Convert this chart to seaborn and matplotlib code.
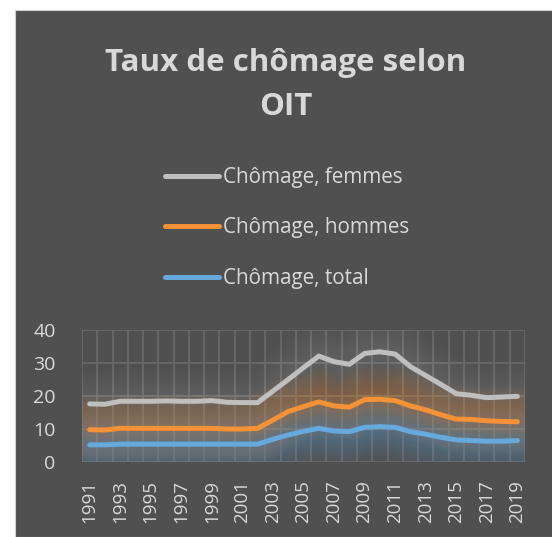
import numpy as np
import pandas as pd
import matplotlib
matplotlib.use("Agg")
import matplotlib.pyplot as plt
import matplotlib.patches as mpatches
import seaborn as sns

years = list(range(1991, 2020))
femmes = [17.6, 17.5, 18.4, 18.4, 18.4, 18.5, 18.4, 18.4, 18.6, 18.1, 18.0, 18.0,
          21.5, 25.0, 28.6, 32.1, 30.4, 29.6, 32.9, 33.4, 32.7, 28.9, 26.2, 23.5,
          20.7, 20.2, 19.5, 19.7, 19.9]
hommes = [9.8, 9.7, 10.2, 10.2, 10.2, 10.2, 10.2, 10.2, 10.2, 10.0, 10.0, 10.2,
          12.7, 15.3, 16.8, 18.2, 17.0, 16.6, 18.9, 19.0, 18.6, 17.0, 15.8, 14.3,
          13.0, 12.9, 12.5, 12.3, 12.2]
total = [5.2, 5.2, 5.4, 5.4, 5.4, 5.4, 5.4, 5.4, 5.4, 5.4, 5.4, 5.4,
         6.9, 8.2, 9.3, 10.2, 9.4, 9.2, 10.5, 10.7, 10.5, 9.2, 8.4, 7.5,
         6.7, 6.5, 6.3, 6.3, 6.5]
series_names = ["Chômage, femmes", "Chômage, hommes", "Chômage, total"]
colors = ["#bfbfbf", "#f39236", "#66a9dd"]
title = "Taux de chômage selon\nOIT"
yticks = [0, 10, 20, 30, 40]
xtick_years = list(range(1991, 2020, 2))

df = pd.DataFrame({"Année": years, series_names[0]: femmes,
                   series_names[1]: hommes, series_names[2]: total})
long = df.melt(id_vars="Année", var_name="Série", value_name="Taux")

sns.set_theme(style="dark")
plt.rcParams["font.family"] = ["Open Sans", "DejaVu Sans"]
txt = "#d9d9d9"
panel = "#505050"
grid = "#6a6a6a"

fig = plt.figure(figsize=(5.52, 5.37), dpi=100, facecolor="white")
fig.patches.append(mpatches.Rectangle((15/552, 0), 1, 1 - 10/537, transform=fig.transFigure,
                                      facecolor=panel, edgecolor="#d0d0d0", lw=0.8, zorder=-10))

ax = fig.add_axes([82/552, 1 - 462/537, (525-82)/552, (462-330)/537])
ax.set_facecolor("none")
ax.set_zorder(5)

# glow
for vals, c, strength in [(femmes, colors[0], 0.5), (hommes, colors[1], 1.0), (total, colors[2], 1.0)]:
    for lw in np.linspace(8, 48, 14):
        ax.plot(years, vals, color=c, lw=lw, alpha=0.032*strength, solid_capstyle="round",
                solid_joinstyle="round", zorder=2)

sns.lineplot(data=long, x="Année", y="Taux", hue="Série", hue_order=series_names,
             palette=colors, lw=3.6, ax=ax, zorder=3, legend=True)
for l in ax.lines[-3:]:
    l.set_solid_capstyle("round")

ax.set_xlim(1990.5, 2019.5)
ax.set_ylim(0, 40)
ax.set_yticks(yticks)
ax.set_xticks(xtick_years)
ax.set_xticks(np.arange(1990.5, 2020, 1), minor=True)
ax.grid(False)
ax.grid(True, which="minor", axis="x", color=grid, lw=1.2, zorder=1)
ax.grid(True, which="major", axis="y", color=grid, lw=1.2, zorder=1)
ax.tick_params(axis="x", which="both", length=0, labelrotation=90, labelsize=13.5,
               labelcolor=txt, pad=13)
ax.tick_params(axis="y", length=0, labelsize=14, labelcolor=txt, pad=19)
ax.set_xlabel("")
ax.set_ylabel("")
for s in ax.spines.values():
    s.set_visible(False)

handles, labels = ax.get_legend_handles_labels()
ax.get_legend().remove()
for h in handles:
    h.set_linewidth(3.6)
leg = fig.legend(handles, labels, loc="center left", bbox_to_anchor=(165/552, 1 - 228/537),
                 frameon=False, fontsize=14.9, handlelength=2.6, handletextpad=0.2,
                 labelspacing=1.42, borderpad=0, borderaxespad=0)
for t in leg.get_texts():
    t.set_color(txt)

fig.text(286/552, 1 - 85/537, title, ha="center", va="center", fontsize=22.5,
         fontweight="bold", color=txt, linespacing=1.6)

fig.savefig("out.png", dpi=100, facecolor="white")
